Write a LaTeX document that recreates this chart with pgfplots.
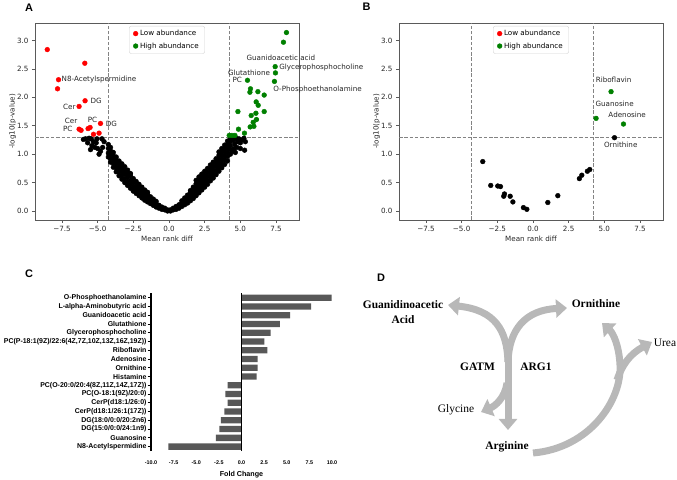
\documentclass[border=0pt]{standalone}
\usepackage{fontspec}
\usepackage{pgfplots}
\pgfplotsset{compat=1.18}
\usetikzlibrary{arrows.meta}
\setmainfont{DejaVu Sans}
\newfontfamily\dejavu{DejaVu Sans}
\newfontfamily\arial{Liberation Sans}
\newfontfamily\tnr{Liberation Serif}
\definecolor{mplred}{RGB}{255,0,0}
\definecolor{mplgreen}{RGB}{0,128,0}
\definecolor{spine}{RGB}{90,90,90}
\definecolor{bargray}{RGB}{88,88,88}
\definecolor{arrowgray}{RGB}{184,184,184}
\tikzset{
  dots/.style={only marks, mark=*, mark size=2.4bp},
  thr/.style={draw=spine!75, line width=0.7bp, dash pattern=on 3.5bp off 1.8bp},
}
\pgfplotsset{
  volc/.style={
    scale only axis, width=264bp, height=197bp,
    xmin=-9.39, xmax=9.11, ymin=-0.158, ymax=3.308,
    xtick={-7.5,-5,-2.5,0,2.5,5,7.5},
    xticklabels={−7.5,−5.0,−2.5,0.0,2.5,5.0,7.5},
    ytick={0,0.5,1,1.5,2,2.5,3},
    yticklabels={0.0,0.5,1.0,1.5,2.0,2.5,3.0},
    xtick pos=left, ytick pos=left,
    tick align=outside, major tick length=3bp,
    tick style={spine, line width=0.6bp},
    axis line style={spine, line width=0.7bp},
    ticklabel style={font=\dejavu\fontsize{7.2}{8}\selectfont, text=black!85},
    clip=false,
    xlabel={Mean rank diff}, ylabel={-log10(p-value)},
    label style={font=\dejavu\fontsize{7.2}{8}\selectfont, text=black!85},
    xlabel style={at={(axis description cs:0.5,-0.095)}, anchor=center},
    ylabel style={at={(axis description cs:-0.085,0.5)}, anchor=center},
    legend style={at={(0.5,0.985)}, anchor=north,
      font=\dejavu\fontsize{7.2}{8.5}\selectfont, draw=gray!35,
      rounded corners=2bp, inner xsep=4bp, inner ysep=2bp, row sep=1.5bp},
    legend cell align=left,
    legend image code/.code={\draw[mark repeat=2,mark phase=2,##1] plot coordinates {(0bp,0bp) (6bp,0bp) (14bp,0bp)};},
  },
}
\begin{document}
\begin{tikzpicture}
\useasboundingbox (0bp,0bp) rectangle (677bp,480bp);
% ---------------- Panel A ----------------
\begin{axis}[volc, at={(35bp,260bp)}, anchor=south west]
\draw[thr] (axis cs:-4.25,-0.158) -- (axis cs:-4.25,3.308);
\draw[thr] (axis cs:4.2,-0.158) -- (axis cs:4.2,3.308);
\draw[thr] (axis cs:-9.39,1.301) -- (axis cs:9.11,1.301);
\addplot[dots, black, forget plot] coordinates {
(-0.1,0.0) (-0.1,0.02) (-0.3,0.02) (-0.3,0.05) (-0.5,0.03) (-0.5,0.07) (-0.7,0.05) (-0.7,0.1)
(-0.9,0.07) (-0.9,0.13) (-0.9,0.17) (-1.1,0.1) (-1.1,0.16) (-1.1,0.21) (-1.3,0.13) (-1.3,0.19) (-1.3,0.25)
(-1.5,0.16) (-1.5,0.22) (-1.5,0.29) (-1.5,0.33) (-1.7,0.19) (-1.7,0.26) (-1.7,0.33) (-1.7,0.37)
(-1.9,0.23) (-1.9,0.3) (-1.9,0.37) (-1.9,0.42) (-2.1,0.27) (-2.1,0.34) (-2.1,0.41) (-2.1,0.47)
(-2.3,0.31) (-2.3,0.38) (-2.3,0.45) (-2.3,0.52) (-2.5,0.35) (-2.5,0.42) (-2.5,0.5) (-2.5,0.57)
(-2.7,0.4) (-2.7,0.47) (-2.7,0.54) (-2.7,0.62) (-2.7,0.66) (-2.9,0.45) (-2.9,0.52) (-2.9,0.6) (-2.9,0.67) (-2.9,0.72)
(-3.1,0.5) (-3.1,0.57) (-3.1,0.65) (-3.1,0.72) (-3.1,0.78) (-3.3,0.56) (-3.3,0.63) (-3.3,0.7) (-3.3,0.77) (-3.3,0.83)
(-3.5,0.62) (-3.5,0.69) (-3.5,0.76) (-3.5,0.83) (-3.5,0.88) (-3.7,0.69) (-3.7,0.76) (-3.7,0.83) (-3.7,0.9) (-3.7,0.95)
(-3.9,0.77) (-3.9,0.84) (-3.9,0.9) (-3.9,0.97) (-3.9,1.03) (-4.1,0.86) (-4.1,0.93) (-4.1,1.0) (-4.1,1.06) (-4.1,1.12)
(-4.25,0.95) (-4.25,1.02) (-4.25,1.1) (-4.25,1.17)
(-4.55,1.22) (-4.7,1.27) (-4.65,1.12) (-4.8,1.05) (-4.9,1.0) (-5.0,1.1) (-5.1,1.2) (-5.05,1.27) (-5.3,1.22)
(-5.45,1.27) (-5.6,1.28) (-5.85,1.27) (-6.0,1.26) (-5.7,1.2) (-5.4,1.15) (-5.2,1.12) (-5.5,1.08)
(0.1,0.0) (0.1,0.02) (0.3,0.02) (0.3,0.05) (0.5,0.03) (0.5,0.08) (0.7,0.05) (0.7,0.11)
(0.9,0.08) (0.9,0.14) (0.9,0.18) (1.1,0.11) (1.1,0.17) (1.1,0.23) (1.3,0.14) (1.3,0.21) (1.3,0.28)
(1.5,0.18) (1.5,0.25) (1.5,0.32) (1.5,0.36) (1.7,0.22) (1.7,0.29) (1.7,0.36) (1.7,0.42)
(1.9,0.27) (1.9,0.34) (1.9,0.41) (1.9,0.48) (1.9,0.54) (2.1,0.32) (2.1,0.39) (2.1,0.46) (2.1,0.53) (2.1,0.6)
(2.3,0.37) (2.3,0.44) (2.3,0.51) (2.3,0.58) (2.3,0.65) (2.5,0.42) (2.5,0.49) (2.5,0.56) (2.5,0.63) (2.5,0.7)
(2.7,0.47) (2.7,0.54) (2.7,0.61) (2.7,0.68) (2.7,0.75) (2.9,0.53) (2.9,0.6) (2.9,0.67) (2.9,0.74) (2.9,0.81)
(3.1,0.58) (3.1,0.65) (3.1,0.72) (3.1,0.79) (3.1,0.86) (3.3,0.64) (3.3,0.71) (3.3,0.78) (3.3,0.85) (3.3,0.92)
(3.5,0.7) (3.5,0.77) (3.5,0.84) (3.5,0.91) (3.5,0.98) (3.5,1.04) (3.7,0.76) (3.7,0.83) (3.7,0.9) (3.7,0.97) (3.7,1.04) (3.7,1.1)
(3.9,0.82) (3.9,0.9) (3.9,0.97) (3.9,1.04) (3.9,1.1) (3.9,1.16) (4.1,0.88) (4.1,0.96) (4.1,1.03) (4.1,1.1) (4.1,1.17) (4.1,1.23)
(4.3,1.0) (4.3,1.08) (4.3,1.15) (4.3,1.22) (4.3,1.27)
(4.5,1.25) (4.6,1.18) (4.7,1.28) (4.8,1.22) (4.9,1.27) (5.0,1.2) (5.1,1.25) (5.25,1.28) (5.35,1.22)
(4.55,1.1) (4.75,1.12) (5.0,1.1) (5.3,1.07) (4.45,1.05) (4.65,1.03)
};
\addplot[dots, mplred] coordinates {
(-8.53,2.84) (-5.90,2.60) (-7.74,2.31) (-7.81,2.15) (-5.88,1.94) (-6.30,1.84) (-4.80,1.54)
(-6.30,1.44) (-6.16,1.42) (-5.67,1.45) (-5.53,1.47) (-5.29,1.35) (-4.90,1.37)
};
\addlegendentry{Low abundance}
\addplot[dots, mplgreen] coordinates {
(8.23,3.14) (8.02,2.97) (7.44,2.54) (7.46,2.43) (7.39,2.28) (5.50,2.30) (5.71,2.15) (5.67,2.09)
(6.23,2.10) (6.67,2.04) (6.11,1.92) (6.25,1.86) (4.83,1.75) (6.67,1.75) (6.09,1.72) (5.76,1.68)
(6.13,1.61) (5.90,1.56) (5.95,1.49) (5.69,1.48) (4.87,1.44) (5.29,1.37) (4.22,1.33) (4.41,1.33) (4.62,1.33)
};
\addlegendentry{High abundance}
\begin{scope}[every node/.style={font=\dejavu\fontsize{7.2}{8}\selectfont, text=black!85, inner sep=0pt}]
\node[anchor=west] at (axis cs:-7.53,2.31) {N8-Acetylspermidine};
\node[anchor=west] at (axis cs:-5.50,1.94) {DG};
\node[anchor=east] at (axis cs:-6.53,1.84) {Cer};
\node at (axis cs:-6.86,1.59) {Cer};
\node at (axis cs:-7.09,1.44) {PC};
\node at (axis cs:-5.36,1.60) {PC};
\node at (axis cs:-4.04,1.54) {DG};
\node at (axis cs:7.84,2.69) {Guanidoacetic acid};
\node[anchor=west] at (axis cs:7.72,2.52) {Glycerophosphocholine};
\node at (axis cs:5.61,2.44) {Glutathione};
\node at (axis cs:4.78,2.30) {PC};
\node[anchor=west] at (axis cs:7.30,2.14) {O-Phosphoethanolamine};
\end{scope}
\end{axis}
% ---------------- Panel B ----------------
\begin{axis}[volc, at={(399bp,260bp)}, anchor=south west]
\draw[thr] (axis cs:-4.3,-0.158) -- (axis cs:-4.3,3.308);
\draw[thr] (axis cs:4.25,-0.158) -- (axis cs:4.25,3.308);
\draw[thr] (axis cs:-9.39,1.301) -- (axis cs:9.11,1.301);
\addplot[dots, black, forget plot] coordinates {
(-3.52,0.87) (-2.96,0.45) (-2.47,0.44) (-2.28,0.43) (-2.00,0.30) (-2.05,0.26) (-1.60,0.26)
(-1.41,0.16) (-0.67,0.06) (-0.43,0.03) (1.04,0.15) (1.74,0.27) (3.25,0.57) (3.42,0.63)
(3.81,0.70) (3.98,0.73) (5.71,1.29)
};
\addlegendimage{dots, mplred}
\addlegendentry{Low abundance}
\addplot[dots, mplgreen] coordinates {
(5.47,2.10) (4.42,1.63) (6.34,1.53)
};
\addlegendentry{High abundance}
\begin{scope}[every node/.style={font=\dejavu\fontsize{7.2}{8}\selectfont, text=black!85, inner sep=0pt}]
\node at (axis cs:5.65,2.31) {Riboflavin};
\node at (axis cs:5.72,1.89) {Guanosine};
\node at (axis cs:6.6,1.70) {Adenosine};
\node at (axis cs:6.15,1.16) {Ornithine};
\end{scope}
\end{axis}
% ---------------- Panel C ----------------
\begin{axis}[at={(151bp,29bp)}, anchor=south west, scale only axis,
  width=181bp, height=157.7bp,
  xmin=-10, xmax=10, ymin=-0.5, ymax=17.5,
  xbar, bar width=6.3bp,
  axis x line*=bottom, axis y line*=left,
  x axis line style={draw=none},
  y axis line style={black, line width=1.1bp},
  xtick={-10,-7.5,-5,-2.5,0,2.5,5,7.5,10},
  xticklabels={-10.0,-7.5,-5.0,-2.5,0.0,2.5,5.0,7.5,10.0},
  xtick style={draw=none},
  ytick={0,1,...,17},
  yticklabels={{N8-Acetylspermidine},{Guanosine},{DG(15:0/0:0/24:1n9)},{DG(18:0/0:0/20:2n6)},
    {CerP(d18:1/26:1(17Z))},{CerP(d18:1/26:0)},{PC(O-18:1(9Z)/20:0)},{PC(O-20:0/20:4(8Z,11Z,14Z,17Z))},
    {Histamine},{Ornithine},{Adenosine},{Riboflavin},{PC(P-18:1(9Z)/22:6(4Z,7Z,10Z,13Z,16Z,19Z))},
    {Glycerophosphocholine},{Glutathione},{Guanidoacetic acid},{L-alpha-Aminobutyric acid},{O-Phosphoethanolamine}},
  tick align=outside,
  ytick style={black, line width=0.9bp},
  major tick length=3.5bp,
  yticklabel style={font=\arial\bfseries\fontsize{7.0}{8}\selectfont, inner xsep=0.8bp},
  xticklabel style={font=\arial\bfseries\fontsize{5.4}{6}\selectfont, yshift=-3bp},
  xlabel={Fold Change},
  xlabel style={font=\arial\bfseries\fontsize{7.2}{8}\selectfont, at={(axis description cs:0.5,-0.152)}, anchor=center},
  clip=false]
\addplot[fill=bargray, draw=none] coordinates {
(-8.09,0) (-2.82,1) (-2.45,2) (-2.27,3) (-1.90,4) (-1.52,5) (-1.79,6) (-1.52,7)
(1.68,8) (1.79,9) (1.79,10) (2.85,11) (2.52,12) (3.23,13) (4.25,14) (5.36,15) (7.68,16) (9.97,17)
};
\draw[black, line width=1.3bp] (axis cs:0,-0.5) -- (axis cs:0,17.5);
\end{axis}
% ---------------- Panel D and letters ----------------
\begin{scope}[x=1bp, y=1bp]
\tikzset{darr/.style={draw=arrowgray, line width=7bp, -{Triangle[width=18bp,length=11bp]}}}
\draw[darr] (508,135) -- (508,50);
\draw[darr] (508,118) .. controls (507,150) and (495,170) .. (448,175);
\draw[darr] (508,118) .. controls (509,150) and (525,170) .. (567,172);
\draw[darr] (507,97) .. controls (505,82) and (495,74) .. (481,68);
\draw[darr] (533,27) .. controls (590,32) and (622,80) .. (620,115) .. controls (619,135) and (613,147) .. (602,157);
\draw[darr] (617,100) .. controls (622,115) and (630,126) .. (652,138);
\begin{scope}[every node/.style={font=\tnr\fontsize{11.5}{15}\selectfont, inner sep=0pt}]
\node[align=center, font=\tnr\bfseries\fontsize{11.5}{15}\selectfont] at (403,168) {Guanidinoacetic\\Acid};
\node[font=\tnr\bfseries\fontsize{11.5}{15}\selectfont] at (596,176.7) {Ornithine};
\node at (665,136.7) {Urea};
\node[font=\tnr\bfseries\fontsize{11.5}{15}\selectfont] at (477.5,113) {GATM};
\node[font=\tnr\bfseries\fontsize{11.5}{15}\selectfont] at (536,113) {ARG1};
\node at (456,70.7) {Glycine};
\node[font=\tnr\bfseries\fontsize{11.5}{15}\selectfont] at (507,33.3) {Arginine};
\end{scope}
\begin{scope}[every node/.style={font=\arial\bfseries\fontsize{11}{12}\selectfont, inner sep=0pt}]
\node at (29,472) {A};
\node at (366.7,473.5) {B};
\node at (29,206.5) {C};
\node at (381,202) {D};
\end{scope}
\end{scope}
\end{tikzpicture}
\end{document}
